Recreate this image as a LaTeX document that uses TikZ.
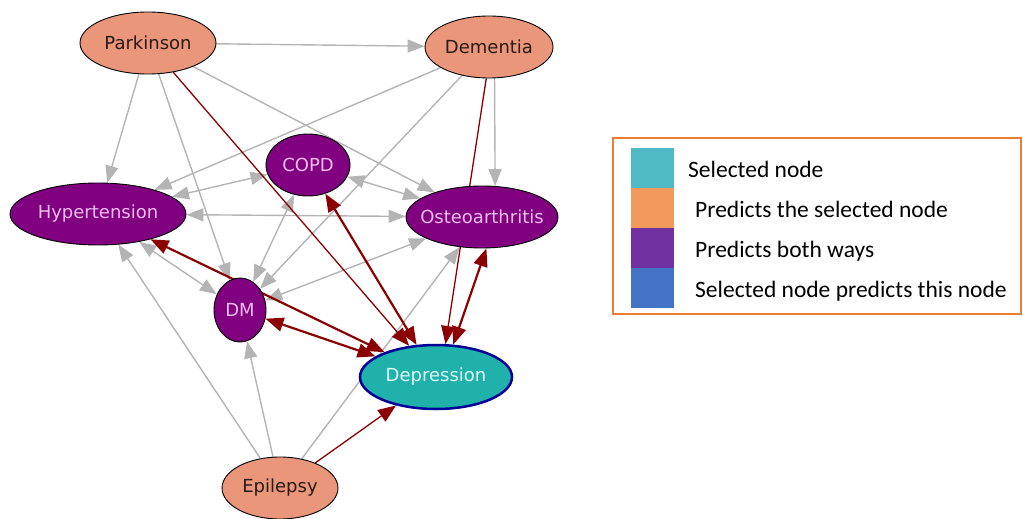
\documentclass[tikz,border=0pt]{standalone}
\usepackage{fontspec}
\setmainfont{DejaVu Sans}
\newfontfamily\legendfont{Carlito}
\usetikzlibrary{arrows.meta,shapes.geometric}
\definecolor{salmon}{HTML}{E9967A}
\definecolor{nodepurple}{HTML}{800080}
\definecolor{seagreen}{HTML}{20B2AA}
\definecolor{depborder}{HTML}{000099}
\definecolor{edgegray}{HTML}{B4B4B4}
\definecolor{edgered}{HTML}{8B0000}
\definecolor{pinktext}{HTML}{F2BDF2}
\definecolor{cyantext}{HTML}{DDF8F5}
\definecolor{darktext}{HTML}{2B1A14}
\definecolor{legcyan}{HTML}{4FB9C5}
\definecolor{legorange}{HTML}{F29A5C}
\definecolor{legpurple}{HTML}{7030A0}
\definecolor{legblue}{HTML}{4472C4}
\definecolor{legborder}{HTML}{ED7D31}
\newcommand{\zw}[1]{\makebox[0pt]{#1}}
\pgfdeclarelayer{edgelayer}
\pgfsetlayers{edgelayer,main}
\begin{document}
\begin{tikzpicture}[x=1pt,y=-1pt,
  disease/.style={ellipse, draw=black, line width=0.9pt, inner sep=0pt, font=\fontsize{18}{20}\selectfont},
  pred/.style={disease, fill=salmon, text=darktext},
  both/.style={disease, fill=nodepurple, text=pinktext},
  selnode/.style={disease, fill=seagreen, text=cyantext, draw=depborder, line width=2.5pt},
  gedge/.style={draw=edgegray, line width=1.4pt, -{Triangle[length=17pt,width=13pt]}},
  gboth/.style={draw=edgegray, line width=1.4pt, {Triangle[length=17pt,width=13pt]}-{Triangle[length=17pt,width=13pt]}},
  redge/.style={draw=edgered, line width=1.3pt, -{Triangle[length=18pt,width=14pt]}},
  rboth/.style={draw=edgered, line width=2.2pt, {Triangle[length=18pt,width=14pt]}-{Triangle[length=18pt,width=14pt]}},
  swatch/.style={inner sep=0pt, minimum width=43pt, minimum height=40pt, anchor=north west},
  legtext/.style={inner sep=0pt, anchor=base west, font=\legendfont\fontsize{23.5}{26}\selectfont, text=black}
]
\useasboundingbox (0,0) rectangle (1023,519);

% nodes
\node[pred, minimum width=136pt, minimum height=62pt] (park) at (148,43) {\zw{Parkinson}};
\node[pred, minimum width=128pt, minimum height=62pt] (dem) at (489,47) {\zw{Dementia}};
\node[both, minimum width=84pt, minimum height=62pt] (copd) at (308,165) {\zw{COPD}};
\node[both, minimum width=176pt, minimum height=62pt] (hyp) at (98,214) {\zw{Hypertension}};
\node[both, minimum width=152pt, minimum height=62pt] (osteo) at (482,217) {\zw{Osteoarthritis}};
\node[both, minimum width=52pt, minimum height=64pt] (dm) at (240,310) {\zw{DM}};
\node[selnode, minimum width=152pt, minimum height=64pt] (dep) at (436,377) {\zw{Depression}};
\node[pred, minimum width=116pt, minimum height=62pt] (epi) at (280,488) {\zw{Epilepsy}};

% edges
\begin{pgfonlayer}{edgelayer}
\draw[gedge] (park) -- (dem);
\draw[gedge] (park) -- (hyp);
\draw[gedge] (park) -- (dm);
\draw[gedge] (park) -- (osteo);
\draw[gedge] (dem) -- (hyp);
\draw[gedge] (dem) -- (dm);
\draw[gedge] (dem.-80) -- (osteo.67);
\draw[gedge] (epi) -- (hyp);
\draw[gedge] (epi) -- (dm);
\draw[gedge] (epi) -- (osteo);
\draw[gboth] (hyp) -- (copd);
\draw[gboth] (copd) -- (osteo);
\draw[gboth] (hyp) -- (osteo);
\draw[gboth] (hyp) -- (dm);
\draw[gboth] (copd) -- (dm);
\draw[gboth] (osteo) -- (dm);
\draw[redge] (park) -- (dep);
\draw[redge] (dem.-95) -- (dep.74);
\draw[redge] (epi) -- (dep);
\draw[rboth] (hyp) -- (dep);
\draw[rboth] (dm) -- (dep);
\draw[rboth] (copd) -- (dep);
\draw[rboth] (osteo.-82) -- (dep.62);
\end{pgfonlayer}

% legend
\node[draw=legborder, line width=1.6pt, inner sep=0pt, minimum width=408pt, minimum height=176pt, anchor=north west] (legend) at (612,137) {};
\node[swatch, fill=legcyan] (sw1) at (631,148) {};
\node[swatch, fill=legorange] (sw2) at (631,188) {};
\node[swatch, fill=legpurple] (sw3) at (631,228) {};
\node[swatch, fill=legblue] (sw4) at (631,268) {};
\node[legtext] (lt1) at (688,177) {Selected node};
\node[legtext] (lt2) at (695,217) {Predicts the selected node};
\node[legtext] (lt3) at (695,257) {Predicts both ways};
\node[legtext] (lt4) at (695,297) {Selected node predicts this node};
\end{tikzpicture}
\end{document}
